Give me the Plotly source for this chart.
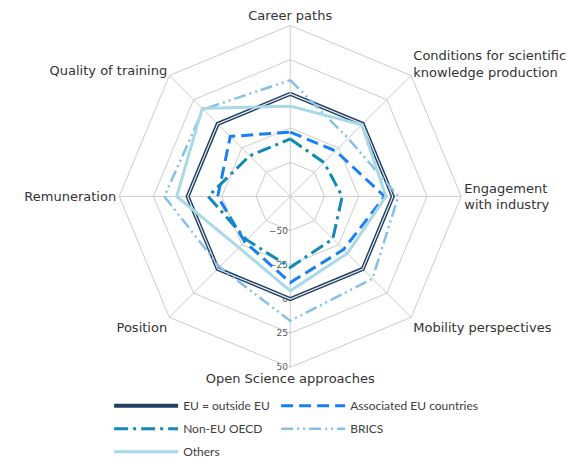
import plotly.graph_objects as go

categories = [
    "Career paths",
    "Conditions for scientific<br>knowledge production",
    "Engagement<br>with industry",
    "Mobility perspectives",
    "Open Science approaches",
    "Position",
    "Remuneration",
    "Quality of training",
]

# values (EU = outside EU is the zero reference)
eu_outside = [0, 0, 0, 0, 0, 0, 0, 0]
associated_eu = [-28, -28, -6, -20, -12, -28, -22, -13]
non_eu_oecd = [-33, -40, -37, -31, -23, -30, -15, -33]
brics = [10, -15, 4, 10, 16, -2, 17, 15]
others = [-9, -1, -5, -16, -6, -22, 8, 16]

radial_ticks = [-50, -25, 0, 25, 50]

grid = "#cccccc"
font = "DejaVu Sans"


def closed(v):
    return list(v) + [v[0]]


theta = closed(categories)

fig = go.Figure()

# (name, values, colour, width, dash, legend)
series = [
    ("EU = outside EU", eu_outside, "#203f61", 4, "solid", "legend"),
    ("Associated EU countries", associated_eu, "#1a7ff5", 3, "12px,6px", "legend2"),
    ("Non-EU OECD", non_eu_oecd, "#1289b6", 3, "14px,5px,3px,5px", "legend"),
    ("BRICS", brics, "#86c0ea", 2.5, "12px,4px,2px,4px,2px,4px", "legend2"),
    ("Others", others, "#a9d8e6", 3, "solid", "legend"),
]

for i, (name, vals, color, w, dash, leg) in enumerate(series):
    fig.add_trace(go.Scatterpolar(
        r=closed(vals), theta=theta, mode="lines", name=name,
        line=dict(color=color, width=w, dash=dash),
        legend=leg, legendgroup=name, hoverinfo="name+r+theta",
    ))
    if i == 0:
        # inner white stroke gives the double-line look
        fig.add_trace(go.Scatterpolar(
            r=closed(vals), theta=theta, mode="lines", showlegend=False,
            line=dict(color="#e8eef4", width=1.2), hoverinfo="skip",
        ))

leg_style = dict(
    orientation="v", yanchor="top", xanchor="left", y=0.165,
    itemwidth=64, tracegroupgap=4, bgcolor="rgba(0,0,0,0)",
    font=dict(family="Lato", size=12, color="#404040"),
)

fig.update_layout(
    width=588, height=459,
    margin=dict(l=0, r=0, t=0, b=0, autoexpand=False),
    paper_bgcolor="white",
    font=dict(family=font, size=13, color="#333333"),
    polar=dict(
        domain=dict(x=[0.189, 0.771], y=[0.217, 0.962]),
        bgcolor="white",
        gridshape="linear",
        radialaxis=dict(
            range=[-75, 50], tickvals=radial_ticks, angle=-90, tickangle=-90,
            showticklabels=True, showline=False, ticks="",
            gridcolor=grid, gridwidth=1, layer="below traces",
            tickfont=dict(family=font, size=9, color="#595959"),
        ),
        angularaxis=dict(
            direction="clockwise", rotation=90, categoryorder="array",
            categoryarray=categories, gridcolor=grid, linecolor=grid,
            showline=True, ticks="",
            tickfont=dict(size=13, color="#333333"),
        ),
    ),
    legend=dict(x=0.172, **leg_style),
    legend2=dict(x=0.456, **leg_style),
)

fig.write_html("out.html")
